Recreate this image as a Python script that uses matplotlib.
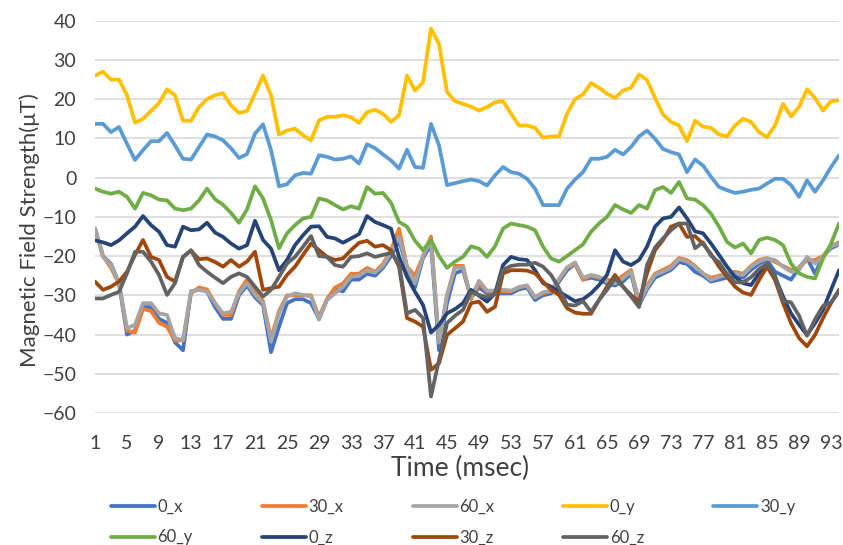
import numpy as np
import matplotlib
matplotlib.use("Agg")
import matplotlib.pyplot as plt

plt.rcParams['font.family'] = ['Lato', 'DejaVu Sans']

# time index (msec)
time_ms = np.arange(1, 95)
tick_labels = [str(t) for t in range(1, 94, 4)]

x0 = [-13, -20, -22, -27, -40, -39, -33, -33, -36, -37, -42, -44, -29, -28.5, -29, -33,
      -36, -36, -30, -27.5, -30.5, -32.5, -44.5, -38, -32, -31, -31, -32, -36, -31, -28.5,
      -29, -26, -26, -24.5, -25, -23, -20, -16, -23, -28, -20.5, -17, -44, -32, -24.4,
      -23.6, -30.7, -28, -29.5, -29.5, -29.5, -29.5, -28.5, -28, -31.2, -30, -29.5, -26.5, -23.6, -22, -26,
      -25.5, -26, -27, -27.5, -26.5, -24.5, -32.5, -28.5, -25.5, -24.5, -23.5, -21.5, -22, -24, -25,
      -26.5, -26, -25.5, -25, -25.5, -23.5, -22, -21, -24, -25, -26, -23, -20.5, -24.5, -20, -18, -17]

x30 = [-13, -20, -23, -27, -39, -39.5, -33.5, -34, -37, -38, -41.5, -41.5, -29.5, -28, -28.5, -32,
       -35, -35, -29, -26, -29, -31.5, -41, -34, -30, -30, -30, -30, -35.5, -31, -28,
       -27, -24.5, -24.5, -23, -24, -22, -18.5, -13, -22.7, -25, -20, -15, -42, -30, -22.5,
       -22.5, -31, -27, -29, -29, -29, -29, -28, -27.5, -30.5, -29.5, -29, -26, -23, -22, -26,
       -25, -25.5, -26, -26.5, -25, -23.5, -31.5, -27.5, -24.5, -23.5, -22.5, -20.5, -21, -22.5, -24.5,
       -25.5, -25, -24.5, -24, -24.5, -22.5, -21, -20.5, -21.5, -22.5, -23.5, -23, -21, -21, -20, -17.5, -16.5]

x60 = [-13, -20.2, -22.3, -26.9, -38.4, -37.5, -32, -32, -34.6, -35, -40.9, -41.4, -29, -28.6, -29.1, -32,
       -34.6, -34.2, -29.5, -26.9, -29.9, -32, -41.8, -34.6, -30.3, -29.5, -29.9, -30.3, -36.2, -31.2, -29.5,
       -27.8, -25.3, -25, -23.7, -24.2, -22.5, -19, -15, -22.7, -27, -20, -16, -42, -30, -23,
       -22.9, -30.5, -26.3, -28.8, -28.8, -28.6, -28.8, -27.9, -27.5, -30.5, -29.2, -28.8, -25.8, -22.9, -21.6, -25.5,
       -24.8, -25.3, -26.5, -26.9, -25.7, -23.9, -32, -28, -24.8, -24, -23, -20.8, -21.4, -22.7, -24.4,
       -26.1, -25.3, -24.8, -24.4, -24.8, -22.7, -21.4, -20.6, -21, -22.7, -24, -23.6, -20.2, -21.9, -20.2, -17.6, -16.8]

y0 = [26, 27, 25, 25, 21, 14, 15, 17, 19, 22.5, 21, 14.5, 14.5, 18, 20, 21,
      21.5, 18.4, 16.5, 17, 21.4, 26, 21, 11, 12, 12.5, 10.8, 9.5, 14.6, 15.5, 15.5,
      15.9, 15.4, 14, 16.7, 17.3, 16.3, 14.2, 15.9, 26, 22.2, 24.3, 38, 34, 21.8, 19.5,
      18.8, 18.1, 17.1, 18, 19.2, 19.5, 16.3, 13.3, 13.3, 12.7, 10.2, 10.5, 10.5, 16.3, 20, 21.2,
      24.1, 22.9, 21.4, 20.3, 22.2, 22.9, 26.3, 24.9, 20.3, 16.1, 14.2, 13.3, 9.3, 14.5, 13,
      12.7, 11, 10.5, 13.3, 15, 14.2, 11.6, 10.3, 13.3, 18.8, 15.6, 18, 22.5, 20.3, 17.1, 19.5, 19.7]

y30 = [13.7, 13.7, 11.6, 12.9, 8.6, 4.5, 7, 9.3, 9.3, 11.4, 8.2, 4.8, 4.6, 7.8, 11, 10.5,
       9.5, 7.5, 5, 6, 11.2, 13.6, 7, -2.2, -1.7, 0.6, 1.2, 1, 5.7, 5.3, 4.6,
       4.8, 5.4, 3.6, 8.5, 7.5, 5.9, 4.4, 2.3, 7.1, 2.7, 2.5, 13.7, 8.2, -1.9, -1.4,
       -0.9, -0.5, -0.9, -2, 0.6, 2.7, 1.4, 1, -0.3, -2.8, -7, -7, -7, -2.8, -0.5, 1.4,
       4.8, 4.8, 5.3, 7.1, 5.9, 7.8, 10.5, 12, 9.9, 7.3, 6.5, 5.9, 1.4, 4.6, 3.1,
       0.2, -2.4, -3.2, -3.9, -3.6, -3.1, -2.8, -1.5, -0.3, -0.3, -1.9, -4.9, -0.7, -3.6, -0.7, 2.7, 5.7]

y60 = [-2.8, -3.6, -4.1, -3.6, -4.9, -7.9, -3.9, -4.5, -5.6, -5.8, -7.9, -8.3, -7.9, -5.8, -2.8, -5.5,
       -6.9, -9, -11.5, -8.1, -2.2, -5.3, -10.8, -18, -14.2, -12.1, -10.4, -10, -5.3, -5.8, -7,
       -8.1, -7.3, -7.9, -2.4, -4.1, -3.9, -6.4, -11.3, -12.5, -16.1, -18.5, -15.9, -20, -23, -21.4,
       -20.2, -17.5, -18.1, -20.2, -17.5, -13, -11.7, -12.1, -12.5, -13.4, -17.6, -20.6, -21.4, -20, -18.5, -17,
       -13.8, -11.7, -10, -7, -8.1, -9, -7, -7.9, -3.2, -2.4, -3.9, -1.1, -5.3, -5.6, -7,
       -9.2, -12.5, -16.4, -17.8, -16.8, -19.3, -15.9, -15.3, -15.9, -17.2, -21.9, -24.4, -25.3, -25.7, -20.6, -16.8, -11.7]

z0 = [-16, -16.5, -17.2, -16, -14.2, -12.5, -9.8, -12.1, -13.8, -17.2, -17.6, -12.5, -13.4, -13.2, -11.5, -14,
      -15.1, -16.8, -18.1, -17.2, -11, -15.9, -18.1, -23.6, -21, -17.2, -14.7, -12.5, -12.4, -15.1, -15.5,
      -16.6, -15.5, -14.4, -9.8, -11.3, -12.1, -13, -20.2, -25.3, -29.1, -32.5, -39.5, -37.5, -34.6, -33.5,
      -32, -28.6, -30.1, -31.6, -29.5, -22.3, -20.2, -20.8, -21, -23.6, -26.9, -27.8, -29.1, -30.3, -31.5, -31,
      -29.5, -27.4, -24.8, -18.5, -21.4, -22.3, -21, -17.6, -12.5, -10.4, -10, -7.6, -10.4, -13.7, -14.2,
      -16.8, -19.7, -22.7, -25.3, -26.9, -27.4, -24.4, -22.3, -25.3, -30.3, -34.6, -37.5, -40.1, -37.1, -33.7, -28.6, -23.6]

z30 = [-26.5, -28.6, -27.8, -26.5, -24, -19.7, -15.9, -20.2, -21, -25.3, -26.5, -20.2, -18.6, -20.8, -20.6, -21.5,
       -22.7, -21, -22.7, -21.4, -18.9, -28.6, -28.2, -27.8, -24.8, -22.7, -19.7, -16.8, -18.5, -20.2, -21,
       -20.6, -18.5, -16.6, -16.1, -17.6, -17.2, -18.5, -22.7, -35.8, -36.7, -38, -49, -47.3, -40.1, -38.4,
       -36.7, -32, -31.6, -34.2, -32.9, -24.4, -23.6, -23.6, -23.7, -24.4, -26.5, -28.6, -29.9, -33.3, -34.4, -34.7,
       -34.7, -31.2, -27.8, -24.8, -27.8, -29.9, -31.6, -24.4, -18.5, -15.9, -12.5, -11.7, -15.1, -14.9, -16.9,
       -19.5, -22.7, -25.3, -27.8, -29.3, -29.9, -26.1, -22.7, -26.1, -32, -37.1, -40.9, -43, -40.1, -35.8, -32, -28.6]

z60 = [-30.8, -30.8, -29.9, -29.1, -24.4, -18.9, -18.9, -21.4, -24.8, -29.9, -26.9, -20.2, -18.5, -22.3, -24, -25.5,
       -26.9, -25.3, -24.4, -25.3, -27.8, -30.3, -28.6, -25.3, -21.9, -20.2, -17.6, -14.9, -20, -20.2, -22.3,
       -22.7, -20.2, -20, -19.3, -20.2, -19.7, -19.2, -21.9, -34.6, -33.7, -35.8, -55.8, -46.4, -37.1, -35.2,
       -33.7, -29.2, -29.9, -30.5, -29.7, -23.5, -22.5, -22.2, -22.2, -21.7, -22.7, -24.8, -28.2, -32.4, -32.6, -31.5,
       -34.2, -31.2, -28.6, -25.7, -27.8, -30.3, -33, -22.3, -17.8, -15.5, -13.4, -11.7, -11.7, -18, -16.5,
       -19.9, -21.6, -24.6, -26.7, -26.7, -25.4, -23.3, -22, -25, -31.4, -31.8, -35.2, -40.3, -36.1, -32.7, -31.8, -29]

series = [
    ("0_x", x0, "#4472C4"),
    ("30_x", x30, "#ED7D31"),
    ("60_x", x60, "#A5A5A5"),
    ("0_y", y0, "#FFC000"),
    ("30_y", y30, "#5B9BD5"),
    ("60_y", y60, "#70AD47"),
    ("0_z", z0, "#264478"),
    ("30_z", z30, "#9E480E"),
    ("60_z", z60, "#636363"),
]

text_color = '#404040'

fig = plt.figure(figsize=(8.43, 5.45), dpi=100)
ax = fig.add_axes([0.1127, 0.2422, 0.8826, 0.7198])

handles = []
for name, vals, color in series:
    h, = ax.plot(time_ms, vals, color=color, lw=2.7, label=name,
                 solid_joinstyle='round', solid_capstyle='round')
    handles.append(h)

ax.set_xlim(1, 94)
ax.set_ylim(-60, 40)
ax.set_yticks(range(-60, 41, 10))
ax.set_xticks(range(1, 94, 4))
ax.set_xticklabels(tick_labels)
ax.grid(axis='y', color='#D9D9D9', lw=1.2)
ax.set_axisbelow(True)
for s in ax.spines.values():
    s.set_visible(False)
ax.tick_params(length=0, labelsize=14, labelcolor=text_color)
ax.tick_params(axis='x', pad=16)
ax.tick_params(axis='y', pad=13.5)

fig.text(460 / 843, 1 - 468 / 545, "Time (msec)", fontsize=19, color=text_color,
         ha='center', va='center')
fig.text(30 / 843, 1 - 230 / 545, "Magnetic Field Strength(μT)", fontsize=16,
         color=text_color, rotation=90, ha='center', va='center')

# row-major legend order for 5 columns
order = [0, 5, 1, 6, 2, 7, 3, 8, 4]
leg = fig.legend([handles[i] for i in order], [series[i][0] for i in order],
                 loc='upper left', bbox_to_anchor=(111 / 843, 1 - 499 / 545), ncol=5,
                 frameon=False, fontsize=12, handlelength=2.64, handletextpad=0.15,
                 columnspacing=4.15, labelspacing=0.86, borderpad=0, borderaxespad=0)
for t in leg.get_texts():
    t.set_color(text_color)

fig.savefig("out.png", dpi=100)
